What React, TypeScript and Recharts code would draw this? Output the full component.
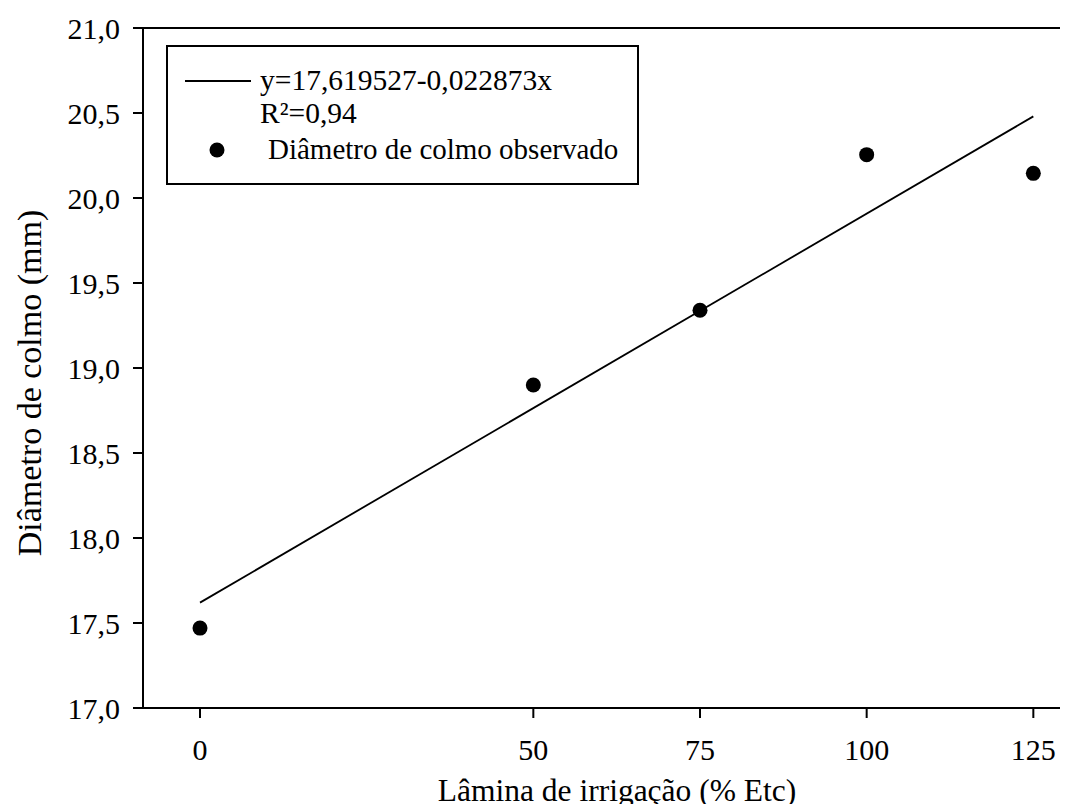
import React from 'react';
import { ComposedChart, Line, Scatter, XAxis, YAxis, ReferenceLine, Legend } from 'recharts';

// dados
const laminas = [0, 50, 75, 100, 125];
const diametros = [17.47, 18.9, 19.34, 20.255, 20.145];
const ajusteX = [0, 125];
const ajusteY = [17.62, 20.48];
const xTicks = [0, 50, 75, 100, 125];
const yTicks = [17, 17.5, 18, 18.5, 19, 19.5, 20, 20.5, 21];
const equacao = 'y=17,619527-0,022873x';
const coefR2 = 'R²=0,94';
const nomeSerie = 'Diâmetro de colmo observado';
const tituloX = 'Lâmina de irrigação (% Etc)';
const tituloY = 'Diâmetro de colmo (mm)';

const FONT = "'Liberation Serif', 'Times New Roman', 'DejaVu Serif', serif";
const txt = (size: number) => ({ fontFamily: FONT, fontSize: size, fill: '#000' });

const pontos = laminas.map((x, i) => ({ x, y: diametros[i] }));
const ajuste = ajusteX.map((x, i) => ({ x, y: ajusteY[i] }));

const fmt = (v: number) => v.toFixed(1).replace('.', ',');

const LegendBox = () => (
  <svg width={474} height={141} style={{ display: 'block' }}>
    <rect x={1} y={1} width={471} height={138} fill="#fff" stroke="#000" strokeWidth={2} />
    <line x1={19} x2={85} y1={36} y2={36} stroke="#000" strokeWidth={2} />
    <text x={94} y={45} style={txt(29.5)}>{equacao}</text>
    <text x={94} y={78} style={txt(29.5)}>{coefR2}</text>
    <circle cx={51} cy={105} r={7.5} fill="#000" />
    <text x={102} y={114} style={txt(29)}>{nomeSerie}</text>
  </svg>
);

const Dot = (p: any) => <circle cx={p.cx} cy={p.cy} r={7.5} fill="#000" />;

export default function App() {
  return (
    <div
      style={{
        margin: -8,
        width: 1068,
        height: 812,
        overflow: 'hidden',
        position: 'relative',
        background: '#fff',
        fontFamily: FONT,
      }}
    >
      <ComposedChart width={1068} height={812} margin={{ top: 28, right: 0, bottom: 0, left: 0 }} style={{ fontFamily: FONT }}>
        <XAxis
          type="number"
          dataKey="x"
          domain={[-8.55, 130.2]}
          ticks={xTicks}
          allowDataOverflow
          height={104}
          tickSize={10}
          tickMargin={21}
          axisLine={{ stroke: '#000', strokeWidth: 2 }}
          tickLine={{ stroke: '#000', strokeWidth: 2 }}
          tick={{ fill: '#000', fontSize: 30, style: { fontFamily: FONT } }}
          label={{
            content: () => (
              <text x={617} y={801} textAnchor="middle" style={txt(31.5)}>
                {tituloX}
              </text>
            ),
          }}
        />
        <YAxis
          type="number"
          dataKey="y"
          domain={[17, 21]}
          ticks={yTicks}
          allowDataOverflow
          width={143}
          tickSize={10}
          tickMargin={13}
          tickFormatter={fmt}
          axisLine={{ stroke: '#000', strokeWidth: 2 }}
          tickLine={{ stroke: '#000', strokeWidth: 2 }}
          tick={{ fill: '#000', fontSize: 30, style: { fontFamily: FONT } }}
          label={{
            content: () => (
              <text x={41} y={383} transform="rotate(-90 41 383)" textAnchor="middle" style={txt(34)}>
                {tituloY}
              </text>
            ),
          }}
        />
        <ReferenceLine y={21} stroke="#000" strokeWidth={2} />
        <Line
          data={ajuste}
          dataKey="y"
          type="linear"
          stroke="#000"
          strokeWidth={1.8}
          dot={false}
          activeDot={false}
          isAnimationActive={false}
          legendType="line"
          name={equacao}
        />
        <Scatter data={pontos} dataKey="y" fill="#000" shape={Dot} isAnimationActive={false} name={nomeSerie} />
        <Legend
          layout="horizontal"
          verticalAlign="middle"
          align="center"
          wrapperStyle={{ left: 166, top: 45, width: 474, height: 141 }}
          content={LegendBox}
        />
      </ComposedChart>
    </div>
  );
}
